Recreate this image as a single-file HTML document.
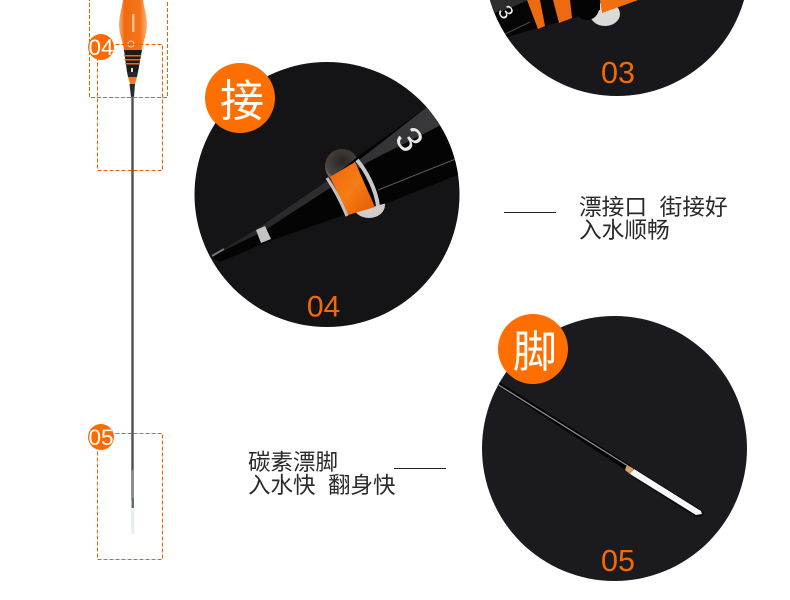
<!DOCTYPE html>
<html lang="zh">
<head>
<meta charset="utf-8">
<style>
html,body{margin:0;padding:0;background:#fff}
svg{display:block}
.cjk{font-family:"Liberation Sans","Noto Sans CJK SC",sans-serif}
.num{font-family:"Liberation Sans",sans-serif}
</style>
</head>
<body>
<svg width="790" height="600" viewBox="0 0 790 600" xmlns="http://www.w3.org/2000/svg">
<defs>
<clipPath id="c1"><circle cx="327" cy="194.5" r="132.5"/></clipPath>
<clipPath id="c3"><circle cx="617" cy="-36" r="132"/></clipPath>
<clipPath id="c5"><circle cx="614.5" cy="448.5" r="132.5"/></clipPath>
<linearGradient id="or" x1="0" y1="0" x2="1" y2="1"><stop offset="0" stop-color="#f0640a"/><stop offset=".5" stop-color="#f67c14"/><stop offset="1" stop-color="#e05a04"/></linearGradient>
<linearGradient id="bodyL" x1="0" x2="1" y1="0" y2="0"><stop offset="0" stop-color="#f9b07c"/><stop offset=".2" stop-color="#f06a10"/><stop offset=".75" stop-color="#f4741a"/><stop offset="1" stop-color="#f9b07c"/></linearGradient>
<linearGradient id="gr" x1="0" x2="1" y1="0" y2="0"><stop offset="0" stop-color="#232225"/><stop offset="1" stop-color="#3a393c"/></linearGradient>
<radialGradient id="drop" cx=".5" cy=".35" r=".7"><stop offset="0" stop-color="#2a2624"/><stop offset=".7" stop-color="#4a4340"/><stop offset="1" stop-color="#a09895"/></radialGradient>
</defs>

<!-- left float -->
<path d="M123 0C122 8 119 16 119 25C119 34 123 42 124 50L142 50C143 42 147 34 147 25C147 16 144 8 143 0Z" fill="url(#bodyL)"/>
<rect x="132" y="14" width="2.500" height="18" fill="#fbd8c0" opacity=".7"/>
<circle cx="131" cy="44" r="3" fill="none" stroke="#fbd8c0" stroke-width="1.200" opacity=".8"/>
<path d="M124 50L142 50L138 72L127 72Z" fill="#1d1a18"/>
<rect x="124" y="55" width="17" height="1.500" fill="#ef6a10"/>
<rect x="124.500" y="59" width="16" height="1.500" fill="#ef6a10"/>
<rect x="125" y="63" width="15" height="1.500" fill="#ef6a10"/>
<rect x="131" y="68" width="2" height="4" fill="#ddd"/>
<path d="M127 72L138 72L137 77L128 77Z" fill="#2a2826"/>
<path d="M128 77L137 77L135 84L130 84Z" fill="#ef7a22"/>
<path d="M129.500 84L135 84L134 97L131 97Z" fill="#2c2a2c"/>
<rect x="131.300" y="96" width="2.400" height="404" fill="#504d54"/>
<rect x="131.800" y="470" width="1.500" height="30" fill="#8a878c"/>
<rect x="131.500" y="498" width="2.500" height="10" fill="#5f7468"/>
<rect x="131" y="508" width="3.500" height="26" fill="#e4f1f0"/>
<rect x="89.500" y="-10" width="78" height="107.500" fill="none" stroke="#f06000" stroke-dasharray="4 2"/>
<rect x="97.500" y="44.500" width="65" height="126" fill="none" stroke="#f06000" stroke-dasharray="4 2"/>
<rect x="97.500" y="433.500" width="65" height="126" fill="none" stroke="#f06000" stroke-dasharray="4 2"/>
<circle cx="101" cy="47" r="13" fill="#ff6a00"/>
<circle cx="101" cy="437" r="13" fill="#ff6a00"/>
<text x="101" y="55" text-anchor="middle" class="num" font-size="22.500" fill="#fff">04</text>
<text x="101" y="445" text-anchor="middle" class="num" font-size="22.500" fill="#fff">05</text>

<!-- circle 03 -->
<circle cx="617" cy="-36" r="132" fill="#18171b"/>
<g clip-path="url(#c3)">
<ellipse cx="605" cy="14" rx="15" ry="12" fill="#dcdad9"/>
<path d="M480 -10L600 -10L600 10L573 18L507 37Z" fill="#050505"/>
<path d="M480 0L528 0L508 9L490 14Z" fill="#2e2d2e"/>
<path d="M505 34L530 22" stroke="#4a4a4c" stroke-width="1"/>
<path d="M527 0L540 0L545 26L538 29Z" fill="#ee6a10"/>
<path d="M553 0L570 0L572 18L559 23Z" fill="#ee6a10"/>
<path d="M600 0L638 0L602 13Z" fill="#ee7010"/>
<circle cx="587" cy="8" r="12" fill="#040404"/>
<text x="506" y="12" text-anchor="middle" class="num" font-size="20" fill="#f0f0f0" transform="rotate(55 506 12) translate(0 7)">3</text>
</g>
<text x="618" y="83" text-anchor="middle" class="num" font-size="30.500" fill="#f56a00">03</text>

<!-- circle 04 -->
<circle cx="327" cy="194.500" r="132.500" fill="#141316"/>
<g clip-path="url(#c1)">
<circle cx="342" cy="166" r="17" fill="url(#drop)"/>
<ellipse cx="369" cy="205" rx="16" ry="13" fill="#cfcccb"/>
<path d="M212 257L257 230L327 182L357 157L427 107L470 170L387 203L347 214L267 242L220 262Z" fill="#040404"/>
<path d="M212 256L257 229L327 181L363 157L427 107L441 125L368 162L330 188L262 232Z" fill="url(#gr)"/>
<path d="M378 190L458 158" stroke="#5a5a5c" stroke-width="1"/>
<path d="M212 256L224 249" stroke="#777" stroke-width="2"/>
<path d="M256 230L265 226L271 239L261 243Z" fill="#c4c4c4"/>
<path d="M330 177L355 162L375 207L348 215Z" fill="url(#or)"/>
<path d="M327 178C335 190 342 204 347 216" fill="none" stroke="#c2c2c2" stroke-width="3"/>
<path d="M357 160C367 172 376 190 378 206" fill="none" stroke="#c9c9c9" stroke-width="4"/>
<text x="410" y="139" text-anchor="middle" class="num" font-size="36" fill="#e8e8e8" transform="rotate(55 410 139) translate(0 13)">3</text>
</g>
<text x="323.500" y="316.500" text-anchor="middle" class="num" font-size="30" fill="#f56a00">04</text>
<circle cx="240" cy="98" r="35" fill="#ff6f00"/>
<text x="242" y="116" text-anchor="middle" class="cjk" font-size="44" fill="#fff">接</text>

<!-- circle 05 -->
<circle cx="614.500" cy="448.500" r="132.500" fill="#1b1a1f"/>
<g clip-path="url(#c5)">
<path d="M496 385L498 381L630 465L627 471Z" fill="#050505"/>
<path d="M497 384L628 466" stroke="#8f8f94" stroke-width="1.200"/>
<path d="M627 465L634 469L630 474L625 470Z" fill="#dba25e"/>
<path d="M634 468L703 511L704 515L699 517L692 515L630 475Z" fill="#0a0a0c"/>
<path d="M634 469L701 511L702 514L696 515L630 474Z" fill="#f7f7f7"/>
</g>
<text x="618" y="571" text-anchor="middle" class="num" font-size="30.500" fill="#f56a00">05</text>
<circle cx="533" cy="349" r="35" fill="#ff6f00"/>
<text x="535" y="367" text-anchor="middle" class="cjk" font-size="44" fill="#fff">脚</text>

<!-- captions -->
<line x1="504" y1="212.500" x2="556" y2="212.500" stroke="#222"/>
<line x1="394" y1="468.500" x2="446" y2="468.500" stroke="#222"/>
<text x="579" y="215" class="cjk" font-size="22.700" fill="#2a2a2a" xml:space="preserve">漂接口  街接好</text>
<text x="579" y="238" class="cjk" font-size="22.700" fill="#2a2a2a">入水顺畅</text>
<text x="248" y="470" class="cjk" font-size="22.500" fill="#2a2a2a">碳素漂脚</text>
<text x="248" y="493" class="cjk" font-size="22.500" fill="#2a2a2a" xml:space="preserve">入水快  翻身快</text>
</svg>
</body>
</html>
